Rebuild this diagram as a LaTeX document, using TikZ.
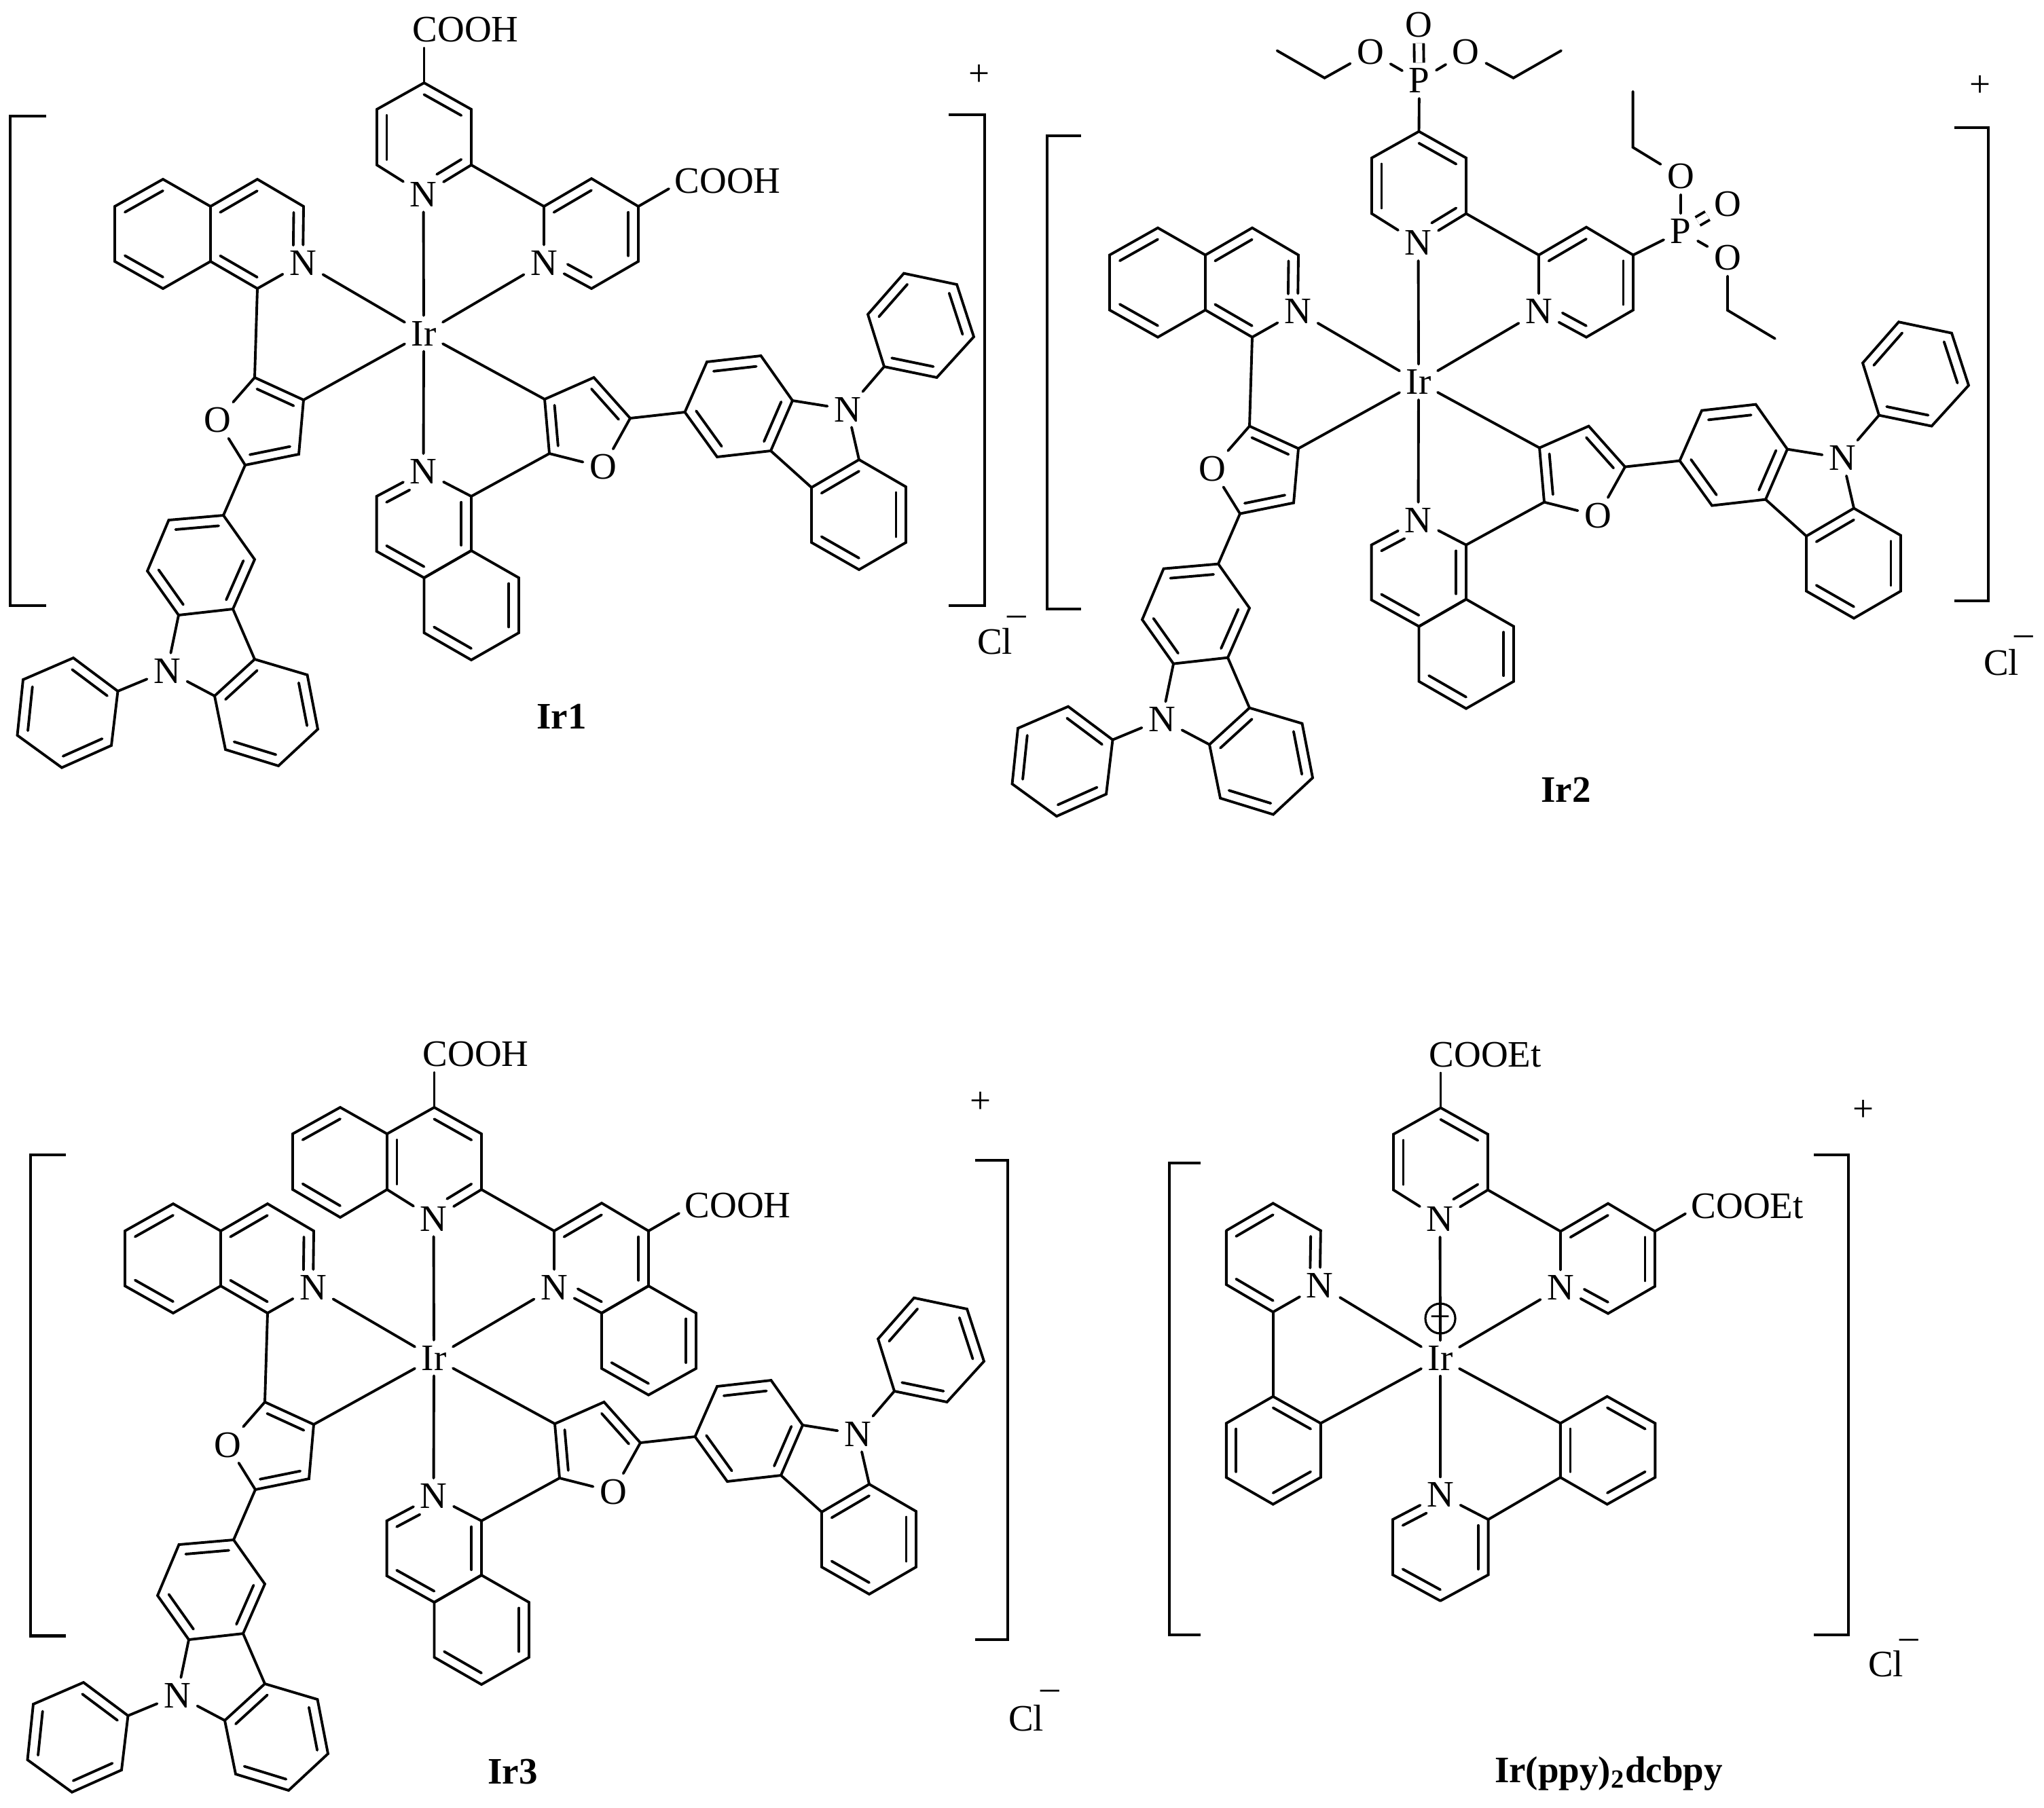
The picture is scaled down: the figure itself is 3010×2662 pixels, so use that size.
\documentclass[tikz,border=0pt]{standalone}
\usepackage{fontspec}
\setmainfont{Liberation Serif}
\usetikzlibrary{calc}

\tikzset{
    bond/.style={line width=1.1pt, line cap=round},
    dblbond/.style={line width=1.1pt, double, double distance=.1cm},
    brack/.style={line width=1.2pt},
    atom/.style={inner xsep=.09cm, inner ysep=.075cm},
    group/.style={inner sep=0pt, anchor=west}
}

% six-ring of carbons
\newcommand{\hexa}[7]{
    \coordinate (#1-1) at #2; \coordinate (#1-2) at #3; \coordinate (#1-3) at #4;
    \coordinate (#1-4) at #5; \coordinate (#1-5) at #6; \coordinate (#1-6) at #7;
    \coordinate (#1-o) at ($(#1-1)!.5!(#1-4)$);
    \draw[bond] (#1-1) -- (#1-2) -- (#1-3) -- (#1-4) -- (#1-5) -- (#1-6) -- cycle;
}
% six-ring with the atom node #5 as fourth corner
\newcommand{\pyra}[7]{
    \coordinate (#1-1) at #2; \coordinate (#1-2) at #3; \coordinate (#1-3) at #4;
    \coordinate (#1-5) at #6; \coordinate (#1-6) at #7;
    \coordinate (#1-o) at ($(#1-1)!.5!(#5)$);
    \draw[bond] (#1-1) -- (#1-2) -- (#1-3) -- (#5) -- (#1-5) -- (#1-6) -- (#1-1);
}
% five-ring with the atom node #5 as fourth corner
\newcommand{\furan}[6]{
    \coordinate (#1-1) at #2; \coordinate (#1-2) at #3; \coordinate (#1-3) at #4;
    \coordinate (#1-5) at #6;
    \coordinate (#1-o) at ($.2*(#1-1)+.2*(#1-2)+.2*(#1-3)+.2*(#5)+.2*(#1-5)$);
    \draw[bond] (#1-1) -- (#1-2) -- (#1-3) -- (#5) -- (#1-5) -- (#1-1);
}
% inner line of a double bond
\newcommand{\dbl}[4][.21]{
    \draw[bond] ($(#2-#3)!#1!(#2-o)$) -- ($(#2-#4)!#1!(#2-o)$);
}
\newcommand{\dbln}[4][.23cm]{
    \draw[bond,shorten >=#1] ($(#2-#3)!.21!(#2-o)$) -- ($(#4)!.21!(#2-o)$);
}

% metal and bipyridine
\newcommand{\bipy}[1]{
    \node[atom] (#1ir) at (624,491) {Ir};
    \node[atom] (#1nt) at (623.5,286) {N};
    \node[atom] (#1nr) at (801,387) {N};
    \pyra{#1pt}{(624.5,122)}{(694,161)}{(694,243)}{#1nt}{(555,243)}{(555,161)}
    \dbl{#1pt}{1}{2} \dbln{#1pt}{3}{#1nt} \dbl{#1pt}{5}{6}
    \pyra{#1pr}{(940,304)}{(940,385)}{(871,425)}{#1nr}{(801,304)}{(871,263)}
    \dbl{#1pr}{1}{2} \dbln{#1pr}{3}{#1nr} \dbl{#1pr}{5}{6}
    \draw[bond] (#1pt-3) -- (#1pr-5);
    \draw[bond] (#1nt) -- (#1ir);
    \draw[bond] (#1nr) -- (#1ir);
}

% the two isoquinoline-furan-carbazole ligands
\newcommand{\furcbz}[1]{
    %left ligand
    \node[atom] (#1nl) at (446,387) {N};
    \node[atom] (#1ol) at (320,619) {O};
    \node[atom] (#1nc) at (246,988) {N};
    \hexa{#1la}{(240,264)}{(310,304)}{(310,385)}{(240,425)}{(169,385)}{(169,304)}
    \dbl{#1la}{1}{6} \dbl{#1la}{4}{5}
    \pyra{#1lb}{(310,304)}{(379,264)}{(447,304)}{#1nl}{(379,425)}{(310,385)}
    \dbl{#1lb}{1}{2} \dbln[.17cm]{#1lb}{3}{#1nl} \dbl{#1lb}{5}{6}
    \furan{#1lf}{(447,589)}{(440,669)}{(361,685)}{#1ol}{(375,556)}
    \dbl[.25]{#1lf}{1}{5} \dbl[.25]{#1lf}{2}{3}
    \hexa{#1lc}{(329,759)}{(248.5,766)}{(217,841)}{(263,906)}{(343,897)}{(375,824)}
    \dbl{#1lc}{1}{2} \dbl{#1lc}{3}{4} \dbl{#1lc}{5}{6}
    \hexa{#1ld}{(375,971)}{(452.5,994)}{(468,1074)}{(410,1128)}{(332,1104)}{(316,1025)}
    \dbl{#1ld}{1}{6} \dbl{#1ld}{2}{3} \dbl{#1ld}{4}{5}
    \hexa{#1le}{(173.5,1018)}{(108,969)}{(34,1001)}{(25.5,1083)}{(91,1130.6)}{(164,1098)}
    \dbl{#1le}{1}{2} \dbl{#1le}{3}{4} \dbl{#1le}{5}{6}
    \draw[bond] (#1lb-5) -- (#1lf-5);
    \draw[bond] (#1lf-3) -- (#1lc-1);
    \draw[bond] (#1lc-4) -- (#1nc) -- (#1ld-6);
    \draw[bond] (#1lc-5) -- (#1ld-1);
    \draw[bond] (#1nc) -- (#1le-1);
    \draw[bond] (#1nl) -- (#1ir);
    \draw[bond] (#1lf-1) -- (#1ir);
    %lower ligand
    \node[atom] (#1nb) at (623.5,694.4) {N};
    \node[atom] (#1or) at (888,688) {O};
    \node[atom] (#1nd) at (1248,603) {N};
    \pyra{#1ra}{(624.5,851)}{(694,811)}{(694,731)}{#1nb}{(554.6,731)}{(554.6,812)}
    \dbl{#1ra}{2}{3} \dbln{#1ra}{5}{#1nb} \dbl{#1ra}{6}{1}
    \hexa{#1rb}{(694,811)}{(764,851)}{(764,932)}{(694,972)}{(624.5,932)}{(624.5,851)}
    \dbl{#1rb}{2}{3} \dbl{#1rb}{4}{5}
    \furan{#1rf}{(802,588)}{(874.5,556)}{(928,616)}{#1or}{(809,668)}
    \dbl[.25]{#1rf}{1}{5} \dbl[.25]{#1rf}{2}{3}
    \hexa{#1rc}{(1008.5,607)}{(1041,533)}{(1120.5,524)}{(1167,590)}{(1135,664)}{(1056,673)}
    \dbl{#1rc}{1}{6} \dbl{#1rc}{2}{3} \dbl{#1rc}{4}{5}
    \hexa{#1rd}{(1265,677)}{(1334,717)}{(1334,799)}{(1265,839)}{(1195,799)}{(1195,718)}
    \dbl{#1rd}{1}{6} \dbl{#1rd}{2}{3} \dbl{#1rd}{4}{5}
    \hexa{#1re}{(1302,540)}{(1379.5,556)}{(1434,496)}{(1409,419)}{(1331,402.6)}{(1278,463)}
    \dbl{#1re}{1}{2} \dbl{#1re}{3}{4} \dbl{#1re}{5}{6}
    \draw[bond] (#1ra-3) -- (#1rf-5);
    \draw[bond] (#1rf-3) -- (#1rc-1);
    \draw[bond] (#1rc-4) -- (#1nd) -- (#1rd-1);
    \draw[bond] (#1rc-5) -- (#1rd-6);
    \draw[bond] (#1nd) -- (#1re-1);
    \draw[bond] (#1nb) -- (#1ir);
    \draw[bond] (#1rf-1) -- (#1ir);
}

% ester or acid groups on the bipyridine
\newcommand{\carboxy}[2]{
    \node[group] (#1st) at (607,44) {#2};
    \node[group] (#1sr) at (993,267) {#2};
    \coordinate (#1cst) at (624.5,71);
    \coordinate (#1csr) at (985,278);
    \draw[bond] (#1pt-1) -- (#1cst);
    \draw[bond] (#1pr-1) -- (#1csr);
}

\begin{document}
\begin{tikzpicture}[x=.01cm, y=-.01cm, every node/.style={font=\fontsize{15.65}{18}\selectfont}]
    \useasboundingbox (0,0) rectangle (3010,2662);

    %Ir1
    \bipy{a}
    \furcbz{a}
    \carboxy{a}{COOH}
    \draw[brack] (68,171) -- (15.3,171) -- (15.3,892) -- (68,892);
    \draw[brack] (1397,169) -- (1449.6,169) -- (1449.6,892) -- (1397,892);
    \node (aplus) at (1442,111) {+};
    \node (acl) at (1465,945) {Cl};
    \node (aminus) at (1497,914) {--};
    \node (alabel) at (827,1055) {\bfseries Ir1};

    %Ir2
    \begin{scope}[shift={(1465,71.6)}]
        \bipy{b}
        \furcbz{b}
    \end{scope}
    \node[atom] (bpa) at (2090,118.6) {P};
    \node[atom] (boa) at (2089,37) {O};
    \node[atom] (bob) at (2018,77) {O};
    \node[atom] (boc) at (2158.7,77) {O};
    \coordinate (bea) at (1950.5,114.8);
    \coordinate (beb) at (1880.6,74.6);
    \coordinate (bec) at (2228.6,114.8);
    \coordinate (bed) at (2299,74.6);
    \draw[bond] (bpt-1) -- (bpa);
    \draw[dblbond] (bpa) -- (boa);
    \draw[bond] (bpa) -- (bob) -- (bea) -- (beb);
    \draw[bond] (bpa) -- (boc) -- (bec) -- (bed);
    \node[atom] (bpb) at (2475,340.6) {P};
    \node[atom] (bod) at (2544,300.4) {O};
    \node[atom] (boe) at (2475,260) {O};
    \node[atom] (bof) at (2544,380) {O};
    \coordinate (bee) at (2404.6,217);
    \coordinate (bef) at (2404.6,134.7);
    \coordinate (beg) at (2544,457);
    \coordinate (beh) at (2613.8,498.7);
    \draw[bond] (bpr-1) -- (bpb);
    \draw[dblbond] (bpb) -- (bod);
    \draw[bond] (bpb) -- (boe) -- (bee) -- (bef);
    \draw[bond] (bpb) -- (bof) -- (beg) -- (beh);
    \draw[brack] (1592,200) -- (1542,200) -- (1542,897) -- (1592,897);
    \draw[brack] (2878,188) -- (2928,188) -- (2928,885) -- (2878,885);
    \node (bplus) at (2916,127) {+};
    \node (bcl) at (2947,976) {Cl};
    \node (bminus) at (2980,943) {--};
    \node (blabel) at (2306,1163) {\bfseries Ir2};

    %Ir3
    \begin{scope}[shift={(15,1509)}]
        \bipy{c}
        \furcbz{c}
        \carboxy{c}{COOH}
        \hexa{cqa}{(486,122)}{(555,161)}{(555,243)}{(486,284)}{(416,243)}{(416,161)}
        \dbl{cqa}{1}{6} \dbl{cqa}{4}{5}
        \hexa{cqb}{(940,385)}{(1010,425)}{(1010,506.6)}{(940,545.6)}{(871,506.6)}{(871,425)}
        \dbl{cqb}{2}{3} \dbl{cqb}{4}{5}
    \end{scope}
    \draw[brack] (97,1701) -- (45,1701) -- (45,2409.5) -- (97,2409.5);
    \draw[brack] (1436,1709) -- (1484,1709) -- (1484,2415) -- (1436,2415);
    \node (cplus) at (1444,1624) {+};
    \node (ccl) at (1511,2531) {Cl};
    \node (cminus) at (1546,2496) {--};
    \node (clabel) at (755,2609) {\bfseries Ir3};

    %Ir(ppy)2dcbpy
    \begin{scope}[shift={(1497,1509.6)}]
        \bipy{d}
        \carboxy{d}{COOEt}
    \end{scope}
    \node[atom] (dnl) at (1943.6,1893) {N};
    \node[atom] (dnb) at (2121,2201.5) {N};
    \pyra{dla}{(1805.8,1812.5)}{(1874.7,1772.3)}{(1944.8,1812.5)}{dnl}{(1874.7,1932.4)}{(1805.8,1892)}
    \dbl{dla}{1}{2} \dbln[.17cm]{dla}{3}{dnl} \dbl{dla}{5}{6}
    \hexa{dlb}{(1874.7,2056.8)}{(1944.8,2096.3)}{(1944.8,2176)}{(1874.7,2215.6)}{(1805.8,2176)}{(1805.8,2096.3)}
    \dbl{dlb}{1}{2} \dbl{dlb}{3}{4} \dbl{dlb}{5}{6}
    \pyra{dra}{(2121,2357.8)}{(2191.6,2319.5)}{(2191.6,2238)}{dnb}{(2051,2238)}{(2051,2319.5)}
    \dbl{dra}{2}{3} \dbln{dra}{5}{dnb} \dbl{dra}{6}{1}
    \hexa{drb}{(2297.8,2096.3)}{(2366.7,2056.8)}{(2437.3,2096.3)}{(2437.3,2176)}{(2366.7,2215.6)}{(2297.8,2176)}
    \dbl{drb}{1}{6} \dbl{drb}{2}{3} \dbl{drb}{4}{5}
    \draw[bond] (dla-5) -- (dlb-1);
    \draw[bond] (dra-3) -- (drb-6);
    \draw[bond] (dnl) -- (dir);
    \draw[bond] (dnb) -- (dir);
    \draw[bond] (dlb-2) -- (dir);
    \draw[bond] (drb-1) -- (dir);
    \node[draw, circle, line width=.9pt, inner sep=0pt, minimum size=.44cm] (dcharge) at (2121,1942) {+};
    \draw[brack] (1768,1713) -- (1722,1713) -- (1722,2408) -- (1768,2408);
    \draw[brack] (2671,1701) -- (2722,1701) -- (2722,2408) -- (2671,2408);
    \node (dplus) at (2744,1636) {+};
    \node (dcl) at (2777,2451) {Cl};
    \node (dminus) at (2811,2421) {--};
    \node (dlabel) at (2369,2612) {\bfseries Ir(ppy)\textsubscript{2}dcbpy};
\end{tikzpicture}
\end{document}
